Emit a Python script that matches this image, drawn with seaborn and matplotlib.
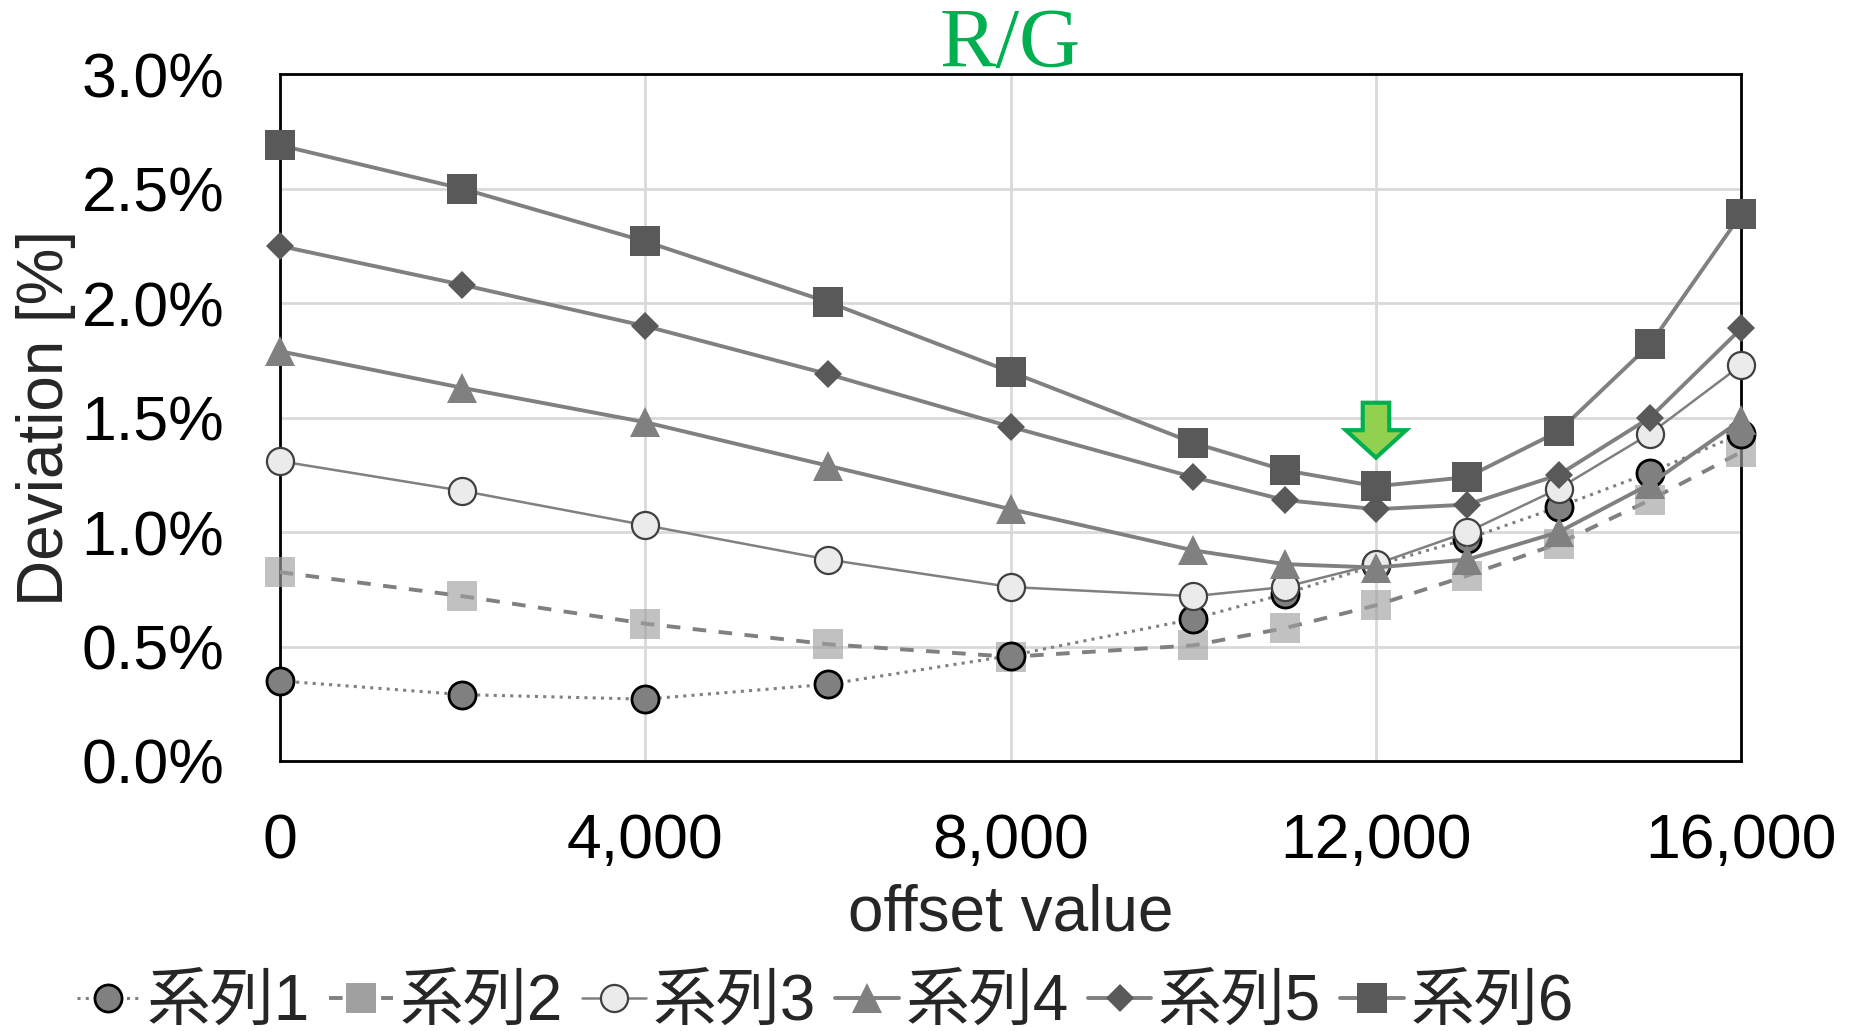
import matplotlib
matplotlib.use("Agg")
import matplotlib.pyplot as plt
import seaborn as sns
import numpy as np
from matplotlib.ticker import FuncFormatter, FixedLocator
from matplotlib.lines import Line2D

offsets = [0, 2000, 4000, 6000, 8000, 10000, 11000, 12000, 13000, 14000, 15000, 16000]
series_names = ["系列1", "系列2", "系列3", "系列4", "系列5", "系列6"]
s1 = [0.35, 0.29, 0.27, 0.335, 0.46, 0.62, 0.73, 0.855, 0.97, 1.11, 1.26, 1.43]
s2 = [0.825, 0.72, 0.60, 0.51, 0.455, 0.505, 0.58, 0.68, 0.81, 0.95, 1.14, 1.35]
s3 = [1.31, 1.18, 1.03, 0.88, 0.76, 0.72, 0.76, 0.86, 1.00, 1.19, 1.43, 1.73]
s4 = [1.79, 1.63, 1.48, 1.29, 1.10, 0.92, 0.86, 0.845, 0.88, 1.00, 1.21, 1.49]
s5 = [2.25, 2.08, 1.90, 1.69, 1.46, 1.24, 1.14, 1.10, 1.12, 1.25, 1.50, 1.89]
s6 = [2.69, 2.50, 2.27, 2.005, 1.70, 1.39, 1.27, 1.20, 1.24, 1.44, 1.82, 2.39]
x_ticks = [0, 4000, 8000, 12000, 16000]
y_ticks = [0.0, 0.5, 1.0, 1.5, 2.0, 2.5, 3.0]
title_text = "R/G"
x_label = "offset value"
y_label = "Deviation [%]"

sns.set_style("white")
plt.rcParams['font.family'] = ['Liberation Sans', 'Noto Sans CJK JP', 'DejaVu Sans']

fig = plt.figure(figsize=(18.5, 10.31), dpi=100)
ax = fig.add_axes([0.1512, 0.2619, 0.9413 - 0.1512, 0.928 - 0.2619])

styles = [
    dict(data=s2, marker='s', ls=(0, (3.5, 3.2)), lw=2.8, mfc='#A0A0A0', mec='none', ms=21, mew=0, alpha_m=0.65, z=3),
    dict(data=s1, marker='o', ls=(0, (1, 1.7)), lw=2.2, mfc='#808080', mec='#000000', ms=19.5, mew=2.0, alpha_m=1, z=4),
    dict(data=s3, marker='o', ls='-', lw=1.8, mfc='#EBEBEB', mec='#404040', ms=19.5, mew=1.6, alpha_m=1, z=5),
    dict(data=s4, marker='^', ls='-', lw=2.8, mfc='#808080', mec='#808080', ms=21, mew=0, alpha_m=1, z=6),
    dict(data=s5, marker='D', ls='-', lw=2.8, mfc='#595959', mec='#595959', ms=14.5, mew=0, alpha_m=1, z=7),
    dict(data=s6, marker='s', ls='-', lw=2.8, mfc='#595959', mec='#595959', ms=21.5, mew=0, alpha_m=1, z=8),
]
order_names = ["系列2", "系列1", "系列3", "系列4", "系列5", "系列6"]

handles = {}
for name, st in zip(order_names, styles):
    sns.lineplot(x=offsets, y=st['data'], ax=ax, color='#808080', linestyle=st['ls'],
                 linewidth=st['lw'], zorder=st['z'])
    ax.plot(offsets, st['data'], linestyle='none', marker=st['marker'], markersize=st['ms'],
            markerfacecolor=st['mfc'], markeredgecolor=st['mec'], markeredgewidth=st['mew'],
            alpha=st['alpha_m'], zorder=st['z'] + 0.5, clip_on=False)
    handles[name] = Line2D([], [], color='#808080', linestyle=st['ls'], linewidth=st['lw'],
                           marker=st['marker'], markersize=st['ms'], markerfacecolor=st['mfc'],
                           markeredgecolor=st['mec'], markeredgewidth=st['mew'])

ax.set_xlim(0, 16000)
ax.set_ylim(0, 3.0)
ax.xaxis.set_major_locator(FixedLocator(x_ticks))
ax.yaxis.set_major_locator(FixedLocator(y_ticks))
ax.xaxis.set_major_formatter(FuncFormatter(lambda v, p: f"{int(v):,}"))
ax.yaxis.set_major_formatter(FuncFormatter(lambda v, p: f"{v:.1f}%"))
ax.grid(True, color='#D9D9D9', linewidth=2)
ax.set_axisbelow(True)
for sp in ax.spines.values():
    sp.set_color('black')
    sp.set_linewidth(2)
ax.tick_params(axis='both', length=0, labelsize=45, colors='black')
ax.tick_params(axis='x', pad=37)
ax.tick_params(axis='y', pad=40)
ax.set_xlabel(x_label, fontsize=46, labelpad=9)
ax.set_ylabel(y_label, fontsize=46, labelpad=4)
ax.set_title(title_text, fontsize=61, color='#00B050', family='Liberation Serif', pad=5)

# green arrow marking 12000
ax.arrow(12000, 1.565, 0, -0.24, width=290, head_width=660, head_length=0.12,
         length_includes_head=True, fc='#92D050', ec='#00B050', lw=3, zorder=10)

leg = fig.legend([handles[n] for n in series_names], series_names, loc='center',
                 bbox_to_anchor=(0.446, 0.027), ncol=6, frameon=False, fontsize=46,
                 handlelength=1.0, handletextpad=0.1, columnspacing=0.3, borderaxespad=0)

fig.savefig("out.png", dpi=100)
